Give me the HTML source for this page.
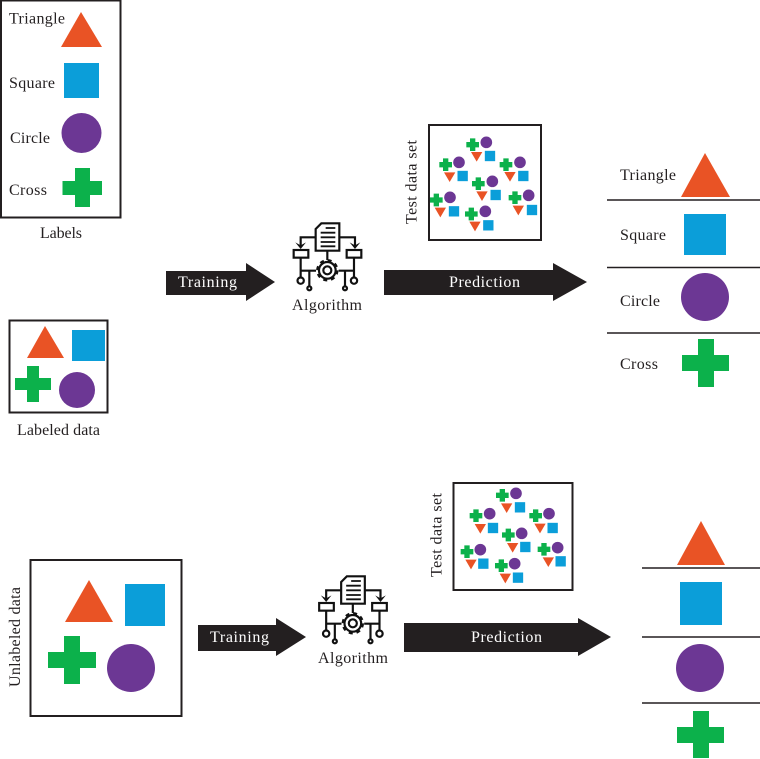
<!DOCTYPE html>
<html><head><meta charset="utf-8"><style>
html,body{margin:0;padding:0;background:#fff;width:760px;height:759px;overflow:hidden}
svg{display:block}
text{font-family:"Liberation Serif",serif;font-size:16px;fill:#231f20}
.w{fill:#fff;font-size:16px}
.b{fill:none;stroke:#231f20;stroke-width:2}
.o{fill:#e95325}.s{fill:#0b9ed9}.p{fill:#6c3794}.g{fill:#0cb14b}
.l{stroke:#231f20;stroke-width:1.6}
.i{fill:none;stroke:#111;stroke-width:6.5}
</style></head><body>
<svg width="760" height="759" viewBox="0 0 760 759" xmlns="http://www.w3.org/2000/svg">
<defs>
<path id="cr" class="g" d="M-8-19H8V-8H19V8H8V19H-8V8H-19V-8H-8Z"/>
<circle id="ci" class="p" r="17.5"/>
<path id="tr" class="o" d="M-17-14H17L0 15Z"/>
<rect id="sq" class="s" x="-15.500" y="-15.500" width="31" height="31"/>
<g id="alg">
<path class="i" d="M107 57L124 40H178V122H107Z"/>
<path class="i" style="stroke-width:5.5" d="M137 54H166M122 68H166M122 82H166M122 96H166M122 109H166"/>
<path class="i" d="M107 82H62V112M178 82H225V112"/>
<path d="M46 97L62 117L78 97L62 106Z M209 97L225 117L241 97L225 106Z" fill="#111"/>
<rect class="i" x="41" y="120" width="44" height="23"/>
<rect class="i" x="200" y="120" width="44" height="23"/>
<path class="i" d="M142 122V150M62 143V202M62 182H108M88 182V229M222 143V202M176 182H222M195 182V229"/>
<circle class="i" cx="62" cy="212" r="9.500"/>
<circle class="i" cx="222" cy="212" r="9.500"/>
<circle class="i" cx="88" cy="235" r="6"/>
<circle class="i" cx="195" cy="235" r="6"/>
<circle class="i" cx="142" cy="181" r="12"/>
<circle class="i" cx="142" cy="181" r="25"/>
<circle cx="142" cy="181" r="30" fill="none" stroke="#111" stroke-width="7" stroke-dasharray="12 11.560"/>
</g>
</defs>

<!-- Labels -->
<rect class="b" x="1" y="0.500" width="119.500" height="217"/>
<text x="9" y="23.500" textLength="56">Triangle</text>
<path class="o" d="M81 12L102 47H61Z"/>
<text x="9" y="88" textLength="46">Square</text>
<rect class="s" x="64" y="63" width="35" height="35"/>
<text x="10" y="143" textLength="40">Circle</text>
<circle class="p" cx="81.500" cy="133" r="20"/>
<text x="9" y="195" textLength="38">Cross</text>
<path class="g" d="M75 168H90V181H102V195H90V207H75V195H62.500V181H75Z"/>
<text x="40" y="238" textLength="42">Labels</text>

<!-- Labeled data -->
<rect class="b" x="9.500" y="320.500" width="98" height="92"/>
<path class="o" d="M45 326L64 358H27Z"/>
<rect class="s" x="72" y="330" width="33" height="31"/>
<path class="g" d="M27 366H39V378H51V390H39V402H27V390H15V378H27Z"/>
<circle class="p" cx="77" cy="390" r="18"/>
<text x="17" y="435" textLength="83">Labeled data</text>

<!-- Training arrow -->
<path fill="#231f20" d="M166 271H246V263L275 282L246 301V295H166Z"/>
<text class="w" x="178" y="287" textLength="59">Training</text>

<!-- Algorithm 1 -->
<use href="#alg" transform="translate(280,210) scale(.3333)"/>
<text x="292" y="310" textLength="70">Algorithm</text>

<!-- Test set 1 -->
<text transform="translate(416.500,224) rotate(-90)" textLength="84">Test data set</text>
<rect class="b" x="429" y="125" width="112" height="115"/>
<g transform="translate(400,120) scale(.3333)">
<use href="#cr" x="218" y="74"/><use href="#cr" x="137" y="134"/><use href="#cr" x="318" y="134"/><use href="#cr" x="235" y="191"/><use href="#cr" x="109" y="240"/><use href="#cr" x="345" y="233"/><use href="#cr" x="214" y="282"/>
<use href="#ci" x="259" y="67"/><use href="#ci" x="177" y="127"/><use href="#ci" x="360" y="127"/><use href="#ci" x="277" y="184"/><use href="#ci" x="150" y="232"/><use href="#ci" x="386" y="226"/><use href="#ci" x="256" y="274"/>
<use href="#tr" x="230" y="110"/><use href="#tr" x="149" y="171"/><use href="#tr" x="330" y="170"/><use href="#tr" x="246" y="228"/><use href="#tr" x="121" y="277"/><use href="#tr" x="355" y="271"/><use href="#tr" x="225" y="319"/>
<use href="#sq" x="270" y="108"/><use href="#sq" x="188" y="168"/><use href="#sq" x="370" y="168"/><use href="#sq" x="287" y="225"/><use href="#sq" x="162" y="274"/><use href="#sq" x="396" y="270"/><use href="#sq" x="265" y="316"/>
</g>

<!-- Prediction arrow -->
<path fill="#231f20" d="M384 270H553V263L587 282L553 301V295H384Z"/>
<text class="w" x="449" y="287" textLength="71">Prediction</text>

<!-- Right list 1 -->
<text x="620" y="180" textLength="56">Triangle</text>
<path class="o" d="M705 153L730 197H681Z"/>
<line class="l" x1="607" y1="200" x2="760" y2="200"/>
<text x="620" y="240" textLength="46">Square</text>
<rect class="s" x="684" y="214" width="42" height="41"/>
<line class="l" x1="607" y1="267.500" x2="760" y2="267.500"/>
<text x="620" y="306" textLength="40">Circle</text>
<circle class="p" cx="705" cy="297" r="24"/>
<line class="l" x1="607" y1="333" x2="760" y2="333"/>
<text x="620" y="369" textLength="38">Cross</text>
<path class="g" d="M698 339H714V355H729V371H714V387H698V371H682V355H698Z"/>

<!-- Unlabeled -->
<rect class="b" x="30.500" y="560" width="151" height="156"/>
<path class="o" d="M89 580L113 622H65Z"/>
<rect class="s" x="125" y="584" width="40" height="42"/>
<path class="g" d="M64 636H80V652H96V668H80V684H64V668H48V652H64Z"/>
<circle class="p" cx="131" cy="668" r="24"/>
<text transform="translate(20,687) rotate(-90)" textLength="100">Unlabeled data</text>

<!-- Training arrow 2 -->
<path fill="#231f20" d="M198 625H276V618L306 637L276 656V651H198Z"/>
<text class="w" x="210" y="642" textLength="59">Training</text>

<!-- Algorithm 2 -->
<use href="#alg" transform="translate(305.500,563) scale(.3333)"/>
<text x="318" y="663" textLength="70">Algorithm</text>

<!-- Test set 2 -->
<text transform="translate(441.500,577) rotate(-90)" textLength="84">Test data set</text>
<rect class="b" x="453.500" y="483" width="119" height="107"/>
<g transform="translate(425,478) scale(.3333)">
<use href="#cr" x="232" y="52"/><use href="#cr" x="153" y="113"/><use href="#cr" x="332" y="113"/><use href="#cr" x="250" y="171"/><use href="#cr" x="126" y="221"/><use href="#cr" x="357" y="214"/><use href="#cr" x="229" y="263"/>
<use href="#ci" x="273" y="46"/><use href="#ci" x="194" y="107"/><use href="#ci" x="372" y="107"/><use href="#ci" x="290" y="166"/><use href="#ci" x="166" y="215"/><use href="#ci" x="398" y="209"/><use href="#ci" x="269" y="257"/>
<use href="#tr" x="245" y="90"/><use href="#tr" x="166" y="152"/><use href="#tr" x="345" y="151"/><use href="#tr" x="263" y="209"/><use href="#tr" x="138" y="259"/><use href="#tr" x="370" y="252"/><use href="#tr" x="241" y="301"/>
<use href="#sq" x="285" y="88"/><use href="#sq" x="204" y="150"/><use href="#sq" x="383" y="150"/><use href="#sq" x="301" y="207"/><use href="#sq" x="175" y="257"/><use href="#sq" x="407" y="250"/><use href="#sq" x="279" y="299"/>
</g>

<!-- Prediction arrow 2 -->
<path fill="#231f20" d="M404 623H578V618L611 637L578 656V652H404Z"/>
<text class="w" x="471" y="642" textLength="71">Prediction</text>

<!-- Right list 2 -->
<path class="o" d="M701 521L725 565H677Z"/>
<line class="l" x1="642" y1="568" x2="760" y2="568"/>
<rect class="s" x="680" y="582" width="42" height="43"/>
<line class="l" x1="642" y1="637" x2="760" y2="637"/>
<circle class="p" cx="700" cy="668" r="24"/>
<line class="l" x1="642" y1="703" x2="760" y2="703"/>
<path class="g" d="M693 711H709V727H724V743H709V758H693V743H677V727H693Z"/>
</svg>
</body></html>
